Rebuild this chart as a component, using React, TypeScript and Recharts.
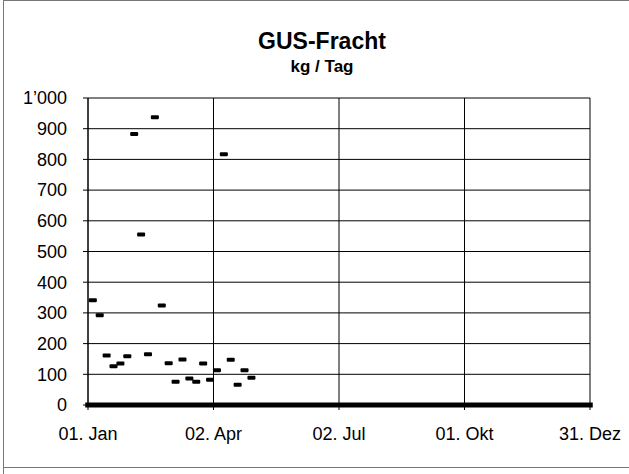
import React from 'react';
import {
  ScatterChart,
  Scatter,
  XAxis,
  YAxis,
  CartesianGrid,
  ReferenceLine,
} from 'recharts';

// day of year (0 = 01. Jan) and kg per day
const days = [
  3.5, 8.5, 13.5, 18.5, 23.5, 28.5, 33.5, 38.5, 43.5, 48.5, 53.5, 58.5,
  63.5, 68.5, 73.5, 78.5, 83.5, 88.5, 93.5, 98.5, 103.5, 108.5, 113.5, 118.5,
];
const kgPerDay = [
  341, 292, 161, 126, 135, 159, 883, 555, 165, 937, 324, 136,
  76, 148, 86, 76, 135, 82, 113, 817, 147, 66, 113, 89,
];

const xTicks = [0, 91, 182, 273, 364];
const xTickLabels = ['01. Jan', '02. Apr', '02. Jul', '01. Okt', '31. Dez'];
const yTicks = [0, 100, 200, 300, 400, 500, 600, 700, 800, 900, 1000];

const data = days.map((d, i) => ({ day: d, kg: kgPerDay[i] }));

const font = 'Liberation Sans, Arial, sans-serif';

const Dash = (props: any) => {
  const { cx, cy } = props;
  if (cx == null || cy == null) return null;
  return <rect x={cx - 4} y={cy - 2} width={8} height={4} rx={1} fill="#000" />;
};

export default function App() {
  return (
    <div
      style={{
        position: 'absolute',
        left: 0,
        top: 0,
        width: 629,
        height: 474,
        overflow: 'hidden',
        background: '#fff',
        fontFamily: font,
      }}
    >
      <div style={{ position: 'absolute', left: 3, top: 0, width: 700, height: 466, borderLeft: '1px solid #777', borderTop: '1px solid #777', borderBottom: '1px solid #777' }} />
      <div style={{ position: 'absolute', left: 3, top: 466, width: 1, height: 10, background: '#777' }} />
      <div style={{ position: 'absolute', left: 0, top: 27, width: 644, textAlign: 'center', fontWeight: 'bold', fontSize: 23, lineHeight: '28px', color: '#000' }}>
        GUS-Fracht
      </div>
      <div style={{ position: 'absolute', left: 0, top: 57, width: 644, textAlign: 'center', fontWeight: 'bold', fontSize: 17, lineHeight: '20px', color: '#000' }}>
        kg / Tag
      </div>
      <ScatterChart
        width={629}
        height={474}
        margin={{ top: 98, right: 39, bottom: 39, left: 8 }}
        style={{ position: 'absolute', left: 0, top: 0 }}
      >
        <CartesianGrid stroke="#000" strokeWidth={1} />
        <XAxis
          type="number"
          dataKey="day"
          domain={[0, 364]}
          ticks={xTicks}
          interval={0}
          tickFormatter={(v: number) => xTickLabels[xTicks.indexOf(v)] ?? ''}
          tickSize={5}
          tickMargin={17}
          height={30}
          axisLine={{ stroke: '#000' }}
          tickLine={{ stroke: '#000' }}
          tick={{ fill: '#000', fontSize: 18, fontFamily: font }}
        />
        <YAxis
          type="number"
          dataKey="kg"
          domain={[0, 1000]}
          ticks={yTicks}
          interval={0}
          tickFormatter={(v: number) => (v === 1000 ? '1’000' : String(v))}
          width={80}
          tickSize={5}
          tickMargin={16}
          axisLine={{ stroke: '#000' }}
          tickLine={{ stroke: '#000' }}
          tick={{ fill: '#000', fontSize: 18, fontFamily: font }}
        />
        <ReferenceLine
          segment={[{ x: -2, y: 0 }, { x: 366, y: 0 }]}
          stroke="#000"
          strokeWidth={5}
          ifOverflow="visible"
        />
        <Scatter data={data} shape={<Dash />} isAnimationActive={false} />
      </ScatterChart>
    </div>
  );
}
